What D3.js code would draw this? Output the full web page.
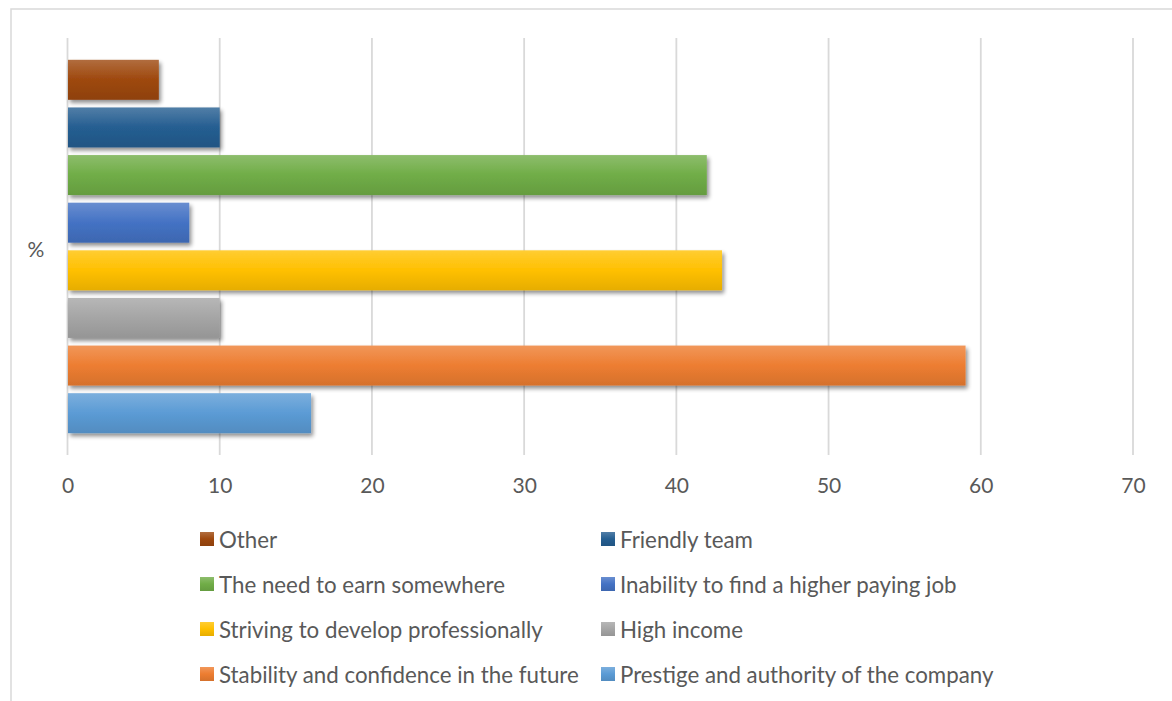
<!DOCTYPE html>
<html>
<head>
<meta charset="utf-8">
<script src="https://cdn.jsdelivr.net/npm/d3@7"></script>
<style>
  html, body { margin: 0; padding: 0; background: #fff; }
  svg { display: block; font-family: Lato, "Open Sans", sans-serif; }
</style>
</head>
<body>
<svg id="chart" width="1172" height="701"></svg>
<script>
// ---- data ----
const seriesNames = [
  "Other",
  "Friendly team",
  "The need to earn somewhere",
  "Inability to find a higher paying job",
  "Striving to develop professionally",
  "High income",
  "Stability and confidence in the future",
  "Prestige and authority of the company"
];
const seriesValues = [6, 10, 42, 8, 43, 10, 59, 16];
const seriesColors = ["#9E480E", "#255E91", "#70AD47", "#4472C4", "#FFC000", "#A5A5A5", "#ED7D31", "#5B9BD5"];
const xTicks = [0, 10, 20, 30, 40, 50, 60, 70];
const categoryLabel = "%";

// ---- layout ----
const svg = d3.select("#chart");
const W = 1172, H = 701;

// outer chart border
svg.append("rect")
  .attr("x", 11).attr("y", 9)
  .attr("width", W + 20).attr("height", H + 20)
  .attr("fill", "#fff").attr("stroke", "#d9d9d9").attr("stroke-width", 1.5);

const defs = svg.append("defs");
const shadow = defs.append("filter").attr("id", "shadow")
  .attr("x", "-5%").attr("y", "-20%").attr("width", "115%").attr("height", "160%");
shadow.append("feGaussianBlur").attr("in", "SourceAlpha").attr("stdDeviation", 2.2);
shadow.append("feOffset").attr("dx", 2).attr("dy", 3).attr("result", "ob");
shadow.append("feComponentTransfer").append("feFuncA").attr("type", "linear").attr("slope", 0.45);
const merge = shadow.append("feMerge");
merge.append("feMergeNode");
merge.append("feMergeNode").attr("in", "SourceGraphic");

seriesColors.forEach((c, i) => {
  const g = defs.append("linearGradient").attr("id", "grad" + i)
    .attr("x1", 0).attr("y1", 0).attr("x2", 0).attr("y2", 1);
  g.append("stop").attr("offset", "0%").attr("stop-color", d3.interpolateRgb(c, "#ffffff")(0.2));
  g.append("stop").attr("offset", "50%").attr("stop-color", c);
  g.append("stop").attr("offset", "100%").attr("stop-color", d3.interpolateRgb(c, "#000000")(0.1));
});

const x = d3.scaleLinear().domain([0, 70]).range([67.5, 1133]);
const y = d3.scaleBand().domain(seriesNames).range([56, 437]).paddingInner(0.16).paddingOuter(0.08);
const plotTop = 38, plotBottom = 455;

// gridlines
svg.append("g").selectAll("line").data(xTicks).join("line")
  .attr("x1", d => x(d)).attr("x2", d => x(d))
  .attr("y1", plotTop).attr("y2", plotBottom)
  .attr("stroke", "#d9d9d9").attr("stroke-width", 1.8);

// x axis tick labels
const xAxis = d3.axisBottom(x).tickValues(xTicks).tickSize(0).tickPadding(0);
const gx = svg.append("g").attr("transform", `translate(0, ${plotBottom + 23})`).call(xAxis);
gx.select(".domain").remove();
gx.selectAll("text")
  .attr("fill", "#595959").attr("font-size", 21)
  .attr("font-family", "Lato, 'Open Sans', sans-serif");

// bars
svg.append("g").selectAll("rect").data(seriesNames).join("rect")
  .attr("x", x(0) + 0.5)
  .attr("y", d => y(d))
  .attr("width", (d, i) => x(seriesValues[i]) - x(0) - 0.5)
  .attr("height", y.bandwidth())
  .attr("fill", (d, i) => `url(#grad${i})`)
  .attr("filter", "url(#shadow)");

// category label
svg.append("text")
  .attr("x", 36).attr("y", 248)
  .attr("text-anchor", "middle").attr("dominant-baseline", "central")
  .attr("fill", "#595959").attr("font-size", 21)
  .text(categoryLabel);

// legend
const legendCols = [200, 601];
const legendRows = [539, 584, 629, 674];
const lg = svg.append("g");
seriesNames.forEach((name, i) => {
  const cx = legendCols[i % 2];
  const cy = legendRows[Math.floor(i / 2)];
  lg.append("rect")
    .attr("x", cx).attr("y", cy - 7).attr("width", 14).attr("height", 14)
    .attr("fill", `url(#grad${i})`);
  lg.append("text")
    .attr("x", cx + 19).attr("y", cy)
    .attr("dominant-baseline", "central")
    .attr("fill", "#595959").attr("font-size", 22.3)
    .text(name);
});
</script>
</body>
</html>
